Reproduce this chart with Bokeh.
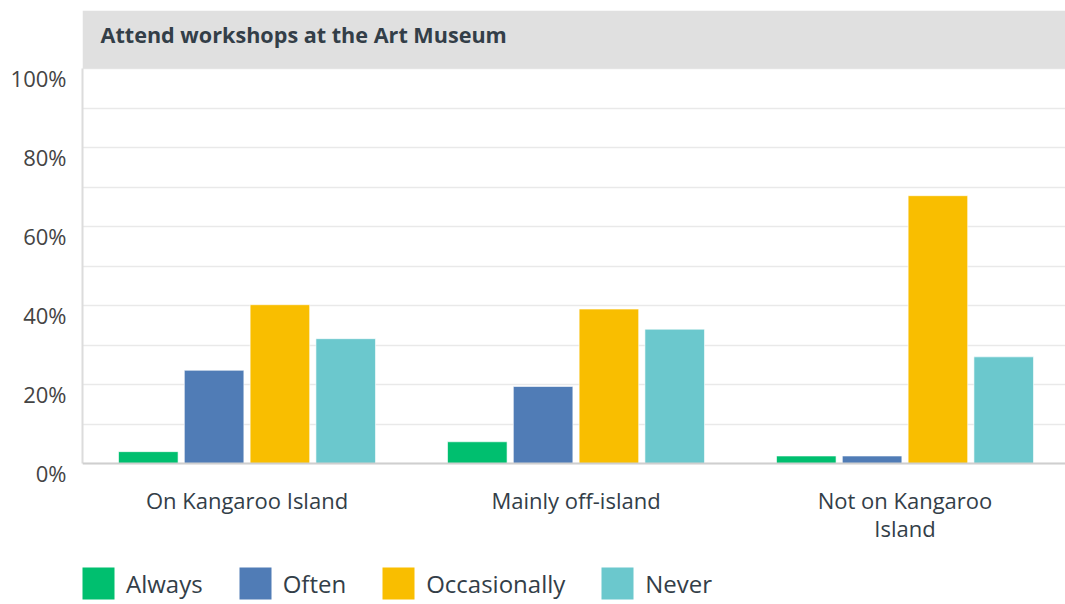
from bokeh.plotting import figure
from bokeh.layouts import column
from bokeh.models import (ColumnDataSource, Range1d, FixedTicker, PrintfTickFormatter,
                          Legend, LegendItem, Label, BoxAnnotation, LinearAxis, Span)
from bokeh.transform import dodge
from bokeh.embed import file_html
from bokeh.resources import INLINE

# ---- data ----
title_text = "Attend workshops at the Art Museum"
groups = ["On Kangaroo Island", "Mainly off-island", "Not on Kangaroo Island"]
tick_labels = ["On Kangaroo Island", "Mainly off-island", "Not on Kangaroo\nIsland"]
series = ["Always", "Often", "Occasionally", "Never"]
always = [3.0, 5.5, 1.9]
often = [23.6, 19.5, 1.9]
occasionally = [40.2, 39.1, 67.8]
never = [31.6, 34.0, 27.0]
y_ticks = [0, 20, 40, 60, 80, 100]
y_minor = [10, 30, 50, 70, 90]

colors = ["#00bf6f", "#507cb6", "#f9be00", "#6bc8cd"]
FONT = "Open Sans"
TXT = "#333e48"

PX = 3.95            # pixels per percent
TOP = 453 / PX       # header band above 100%
EXT = 14 / PX        # white strip below the baseline
LAB = 9 / PX         # tick labels sit just below their grid line

centers = [i + 0.5 for i in range(len(groups))]
src = ColumnDataSource(dict(x=centers, Always=always, Often=often,
                            Occasionally=occasionally, Never=never))

W, H = 1065, 548
p = figure(width=W, height=H, output_backend="svg", toolbar_location=None,
           x_range=Range1d(0, 983 / 329), y_range=Range1d(-EXT, TOP),
           min_border_left=82, min_border_right=0, min_border_top=10,
           min_border_bottom=H - 10 - 467)
p.outline_line_color = None
p.background_fill_color = "white"
p.border_fill_color = "white"
p.extra_y_ranges = {"lab": Range1d(-EXT + LAB, TOP + LAB)}

# header band
p.add_layout(BoxAnnotation(bottom=100, fill_color="#e0e0e0", fill_alpha=1,
                           line_color=None, level="underlay"))

offsets = [-0.3, -0.1, 0.1, 0.3]
renderers = []
for s, off, c in zip(series, offsets, colors):
    r = p.vbar(x=dodge("x", off, range=p.x_range), top=s, width=0.181, bottom=0,
               source=src, fill_color=c, line_color="white", line_alpha=0.6,
               line_width=1)
    renderers.append(r)

# baseline
p.add_layout(Span(location=0, dimension="width", line_color="#cfcfcf", line_width=2))

# x axis (labels only)
p.xaxis.ticker = FixedTicker(ticks=centers)
p.xaxis.major_label_overrides = {c: t for c, t in zip(centers, tick_labels)}
p.xaxis.major_tick_line_color = None
p.xaxis.minor_tick_line_color = None
p.xaxis.major_tick_out = 0
p.xaxis.minor_tick_out = 0
p.xaxis.axis_line_color = None
p.xaxis.major_label_text_font = FONT
p.xaxis.major_label_text_font_size = "22px"
p.xaxis.major_label_text_color = TXT
p.xaxis.major_label_standoff = 7
p.xaxis.major_label_text_line_height = 0.94

# main y axis: only the line
p.yaxis.ticker = FixedTicker(ticks=[])
p.yaxis.bounds = (0, 100)
p.yaxis.major_tick_line_color = None
p.yaxis.minor_tick_line_color = None
p.yaxis.major_tick_out = 0
p.yaxis.minor_tick_out = 0
p.yaxis.major_label_standoff = 0
p.yaxis.axis_line_color = "#dcdcdc"
p.yaxis.axis_line_width = 2

# label axis
lab_axis = LinearAxis(y_range_name="lab", ticker=FixedTicker(ticks=y_ticks),
                      formatter=PrintfTickFormatter(format="%d%%"),
                      axis_line_color=None, major_tick_line_color=None,
                      minor_tick_line_color=None, major_tick_out=0, minor_tick_out=0,
                      major_label_standoff=16, major_label_text_font=FONT,
                      major_label_text_font_size="22px",
                      major_label_text_color="#444444")
p.add_layout(lab_axis, "left")

p.ygrid.ticker = FixedTicker(ticks=y_ticks, minor_ticks=y_minor)
p.xgrid.grid_line_color = None
p.ygrid.grid_line_color = "#e9e9e9"
p.ygrid.grid_line_width = 1.5
p.ygrid.minor_grid_line_color = "#e9e9e9"
p.ygrid.minor_grid_line_width = 1.5

# title inside band
p.add_layout(Label(x=18, y=(463 - 34) / PX, x_units="screen", y_units="data",
                   text=title_text, text_font=FONT, text_font_style="bold",
                   text_font_size="21.6px", text_color=TXT,
                   text_baseline="alphabetic"))

# ---- legend strip ----
q = figure(width=W, height=56, output_backend="svg", toolbar_location=None,
           x_range=Range1d(0, 1), y_range=Range1d(0, 1),
           x_axis_location=None, y_axis_location=None, min_border=0)
q.outline_line_color = None
q.grid.grid_line_color = None
q.border_fill_color = "white"
q.background_fill_color = "white"
leg_renderers = []
for s, off, c in zip(series, offsets, colors):
    r = q.vbar(x=dodge("x", off, range=q.x_range), top=s, width=0.1, source=src,
               fill_color=c, line_color=None, visible=False)
    leg_renderers.append(r)
legend = Legend(items=[LegendItem(label=s, renderers=[r]) for s, r in zip(series, leg_renderers)],
                orientation="horizontal", location=(-4, 1),
                glyph_width=40, glyph_height=40, label_standoff=8, spacing=32,
                padding=0, margin=0, border_line_color=None, background_fill_alpha=0,
                inactive_fill_alpha=0,
                label_text_font=FONT, label_text_font_size="24px", label_text_color=TXT,
                label_height=40)
q.add_layout(legend, "center")

layout = column(p, q, spacing=0)
open("out.html", "w").write(file_html(layout, INLINE))
